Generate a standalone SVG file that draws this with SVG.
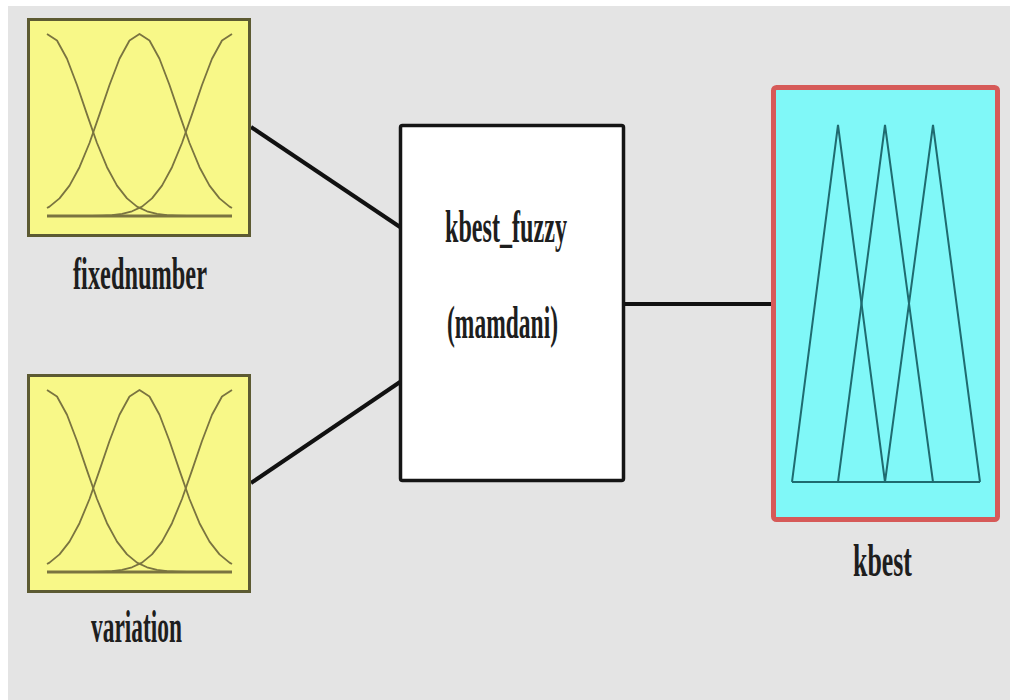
<svg xmlns="http://www.w3.org/2000/svg" width="1010" height="700" viewBox="0 0 1010 700">
<style>
.bg{fill:#e4e4e4}
.inbox{fill:#f8f888;stroke:#5c5a32;stroke-width:3}
.mf{fill:none;stroke:#7a7440;stroke-width:1.8;stroke-linejoin:round}
.mfbase{fill:none;stroke:#7a7440;stroke-width:3}
.sys{fill:#ffffff;stroke:#151515;stroke-width:3.5}
.outbox{fill:#80f8f8;stroke:#d65a58;stroke-width:5}
.tri{fill:none;stroke:#1f6b70;stroke-width:2;stroke-linejoin:miter}
.conn{stroke:#111111;stroke-width:4;fill:none}
.lbl{font-family:"Liberation Serif","DejaVu Serif",serif;font-weight:bold;font-size:46px;fill:#1e1e1e;text-anchor:start}
</style>
<defs>
<g id="gauss">
<path class="mf" d="M20,16 L30,22.5 L40,40.8 L50,67 L60,96.4 L70,125 L80,149.2 L90,167.6 L100,180.4 L110,188.6 L120,193.3 L130,195.8 L140,197.1 L150,197.6 L160,197.9 L205,198"/>
<path class="mf" transform="matrix(-1 0 0 1 225 0)" d="M20,16 L30,22.5 L40,40.8 L50,67 L60,96.4 L70,125 L80,149.2 L90,167.6 L100,180.4 L110,188.6 L120,193.3 L130,195.8 L140,197.1 L150,197.6 L160,197.9 L205,198"/>
<path class="mf" d="M20,190 L22.5,188.6 L32.5,180.4 L42.5,167.6 L52.5,149.2 L62.5,125 L72.5,96.4 L82.5,67 L92.5,40.8 L102.5,22.5 L112.5,16 L122.5,22.5 L132.5,40.8 L142.5,67 L152.5,96.4 L162.5,125 L172.5,149.2 L182.5,167.6 L192.5,180.4 L202.5,188.6 L205,190"/>
<line class="mfbase" x1="20" y1="198" x2="205" y2="198"/>
</g>
</defs>
<rect x="0" y="0" width="1010" height="700" fill="#ffffff"/>
<rect class="bg" x="8" y="6" width="1002" height="694"/>
<g id="connectors">
<line class="conn" x1="251" y1="127" x2="400" y2="227"/>
<line class="conn" x1="251" y1="483" x2="400" y2="382"/>
<line class="conn" x1="624" y1="304" x2="772" y2="304"/>
</g>
<g id="fixednumber">
<rect class="inbox" x="28.5" y="19.5" width="221" height="216"/>
<use href="#gauss" transform="translate(27,18)"/>
<text class="lbl" x="73" y="289" textLength="134" lengthAdjust="spacingAndGlyphs">fixednumber</text>
</g>
<g id="variation">
<rect class="inbox" x="28.5" y="375.5" width="221" height="216"/>
<use href="#gauss" transform="translate(27,374)"/>
<text class="lbl" x="91" y="642" textLength="91" lengthAdjust="spacingAndGlyphs">variation</text>
</g>
<g id="kbest_fuzzy">
<rect class="sys" x="400.5" y="125.5" width="223" height="355" rx="2"/>
<text class="lbl" x="445" y="242" textLength="122" lengthAdjust="spacingAndGlyphs">kbest_fuzzy</text>
<text class="lbl" x="447" y="338" textLength="111" lengthAdjust="spacingAndGlyphs">(mamdani)</text>
</g>
<g id="kbest">
<rect class="outbox" x="773.5" y="87.5" width="224" height="432" rx="3"/>
<line class="tri" x1="792" y1="482" x2="980" y2="482"/>
<polyline class="tri" points="792,482 838,125 885,482"/>
<polyline class="tri" points="838,482 885,125 933,482"/>
<polyline class="tri" points="885,482 933,125 980,482"/>
<text class="lbl" x="853" y="576" textLength="59" lengthAdjust="spacingAndGlyphs">kbest</text>
</g>
</svg>
